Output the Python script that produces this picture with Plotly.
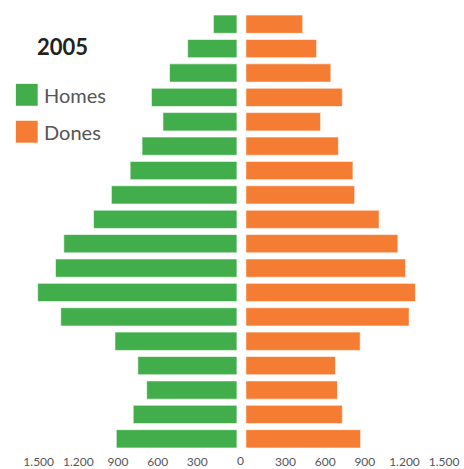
import plotly.graph_objects as go

# Age groups, bottom to top
ages = ["0-4", "5-9", "10-14", "15-19", "20-24", "25-29", "30-34", "35-39", "40-44",
        "45-49", "50-54", "55-59", "60-64", "65-69", "70-74", "75-79", "80-84", "85+"]
# Values bottom to top
homes = [913, 785, 683, 750, 923, 1333, 1508, 1373, 1310, 1085, 950, 808, 718, 560, 647, 510, 373, 178]
dones = [868, 730, 693, 678, 865, 1235, 1283, 1208, 1150, 1008, 823, 810, 700, 565, 730, 643, 535, 430]

tick_vals = [300, 600, 900, 1200, 1500]
title_text = "2005"
series_names = ["Homes", "Dones"]

GREEN = "#42AE4B"
ORANGE = "#F57D33"
W, H = 464, 469

fig = go.Figure()
fig.add_trace(go.Bar(y=ages, x=homes, orientation="h", xaxis="x", yaxis="y",
                     marker=dict(color=GREEN, line=dict(color="rgba(255,255,255,0.6)", width=1)),
                     name=series_names[0], showlegend=False))
fig.add_trace(go.Bar(y=ages, x=dones, orientation="h", xaxis="x2", yaxis="y",
                     marker=dict(color=ORANGE, line=dict(color="rgba(255,255,255,0.6)", width=1)),
                     name=series_names[1], showlegend=False))

tickfont = dict(family="Lato", size=12, color="#555555")
fig.update_layout(
    width=W, height=H,
    margin=dict(l=0, r=0, t=12, b=17),
    paper_bgcolor="white", plot_bgcolor="white",
    separators=",.",
    bargap=0.25,
    xaxis=dict(domain=[23.67 / W, 237 / W], range=[1600, 0], tickvals=tick_vals,
               tickformat=",d", showgrid=False, zeroline=False, showline=False,
               ticks="", tickfont=tickfont, anchor="y", ticklabelstandoff=2),
    xaxis2=dict(domain=[246 / W, 459.33 / W], range=[0, 1600], tickvals=tick_vals,
                tickformat=",d", showgrid=False, zeroline=False, showline=False,
                ticks="", tickfont=tickfont, anchor="y", ticklabelstandoff=2),
    yaxis=dict(visible=False, categoryorder="array", categoryarray=ages),
    font=dict(family="Lato"),
)

# "0" label centred in the gap
fig.add_annotation(x=241 / W, xref="paper", y=0, yref="paper", yanchor="top",
                   yshift=0, text="0", showarrow=False, font=tickfont)

# Title
fig.add_annotation(x=33 / W, xref="paper", y=1 - (47 - 12) / (H - 29), yref="paper",
                   xanchor="left", yanchor="middle", text="<b>" + title_text + "</b>",
                   showarrow=False, font=dict(family="Lato", size=22, color="#222222"))

# Legend
for i, (name, col) in enumerate(zip(series_names, [GREEN, ORANGE])):
    cy = 95 + i * 37
    fig.add_shape(type="rect", xref="paper", yref="paper",
                  x0=14 / W, x1=36 / W,
                  y0=1 - (cy + 11 - 12) / (H - 29), y1=1 - (cy - 11 - 12) / (H - 29),
                  fillcolor=col, line=dict(width=0))
    fig.add_annotation(x=40 / W, xref="paper", y=1 - (cy - 12) / (H - 29), yref="paper",
                       xanchor="left", yanchor="middle", text=name, showarrow=False,
                       font=dict(family="Lato", size=20, color="#555555"))

fig.write_html("out.html", config={"displayModeBar": False},
               post_script="document.body.style.margin='0';")
